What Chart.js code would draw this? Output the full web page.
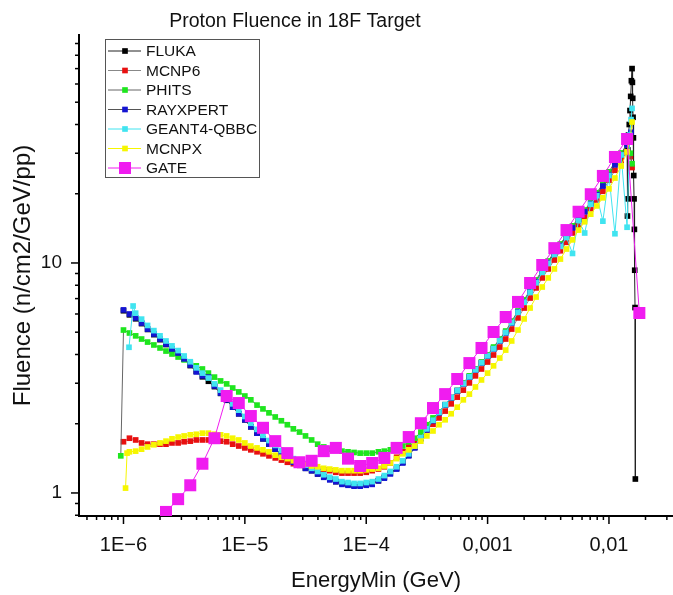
<!DOCTYPE html>
<html>
<head>
<meta charset="utf-8">
<script src="https://cdn.jsdelivr.net/npm/chart.js@4.4.0/dist/chart.umd.min.js"></script>
<style>
    html, body { margin: 0; padding: 0; background: #fff; }
    #wrap { width: 673px; height: 595px; }
</style>
</head>
<body>
<div id="wrap"><canvas id="fluenceChart" width="673" height="595"></canvas></div>
<script>
// energy grid shared by the dense series (GeV)
const energyGrid = [
    1.00e-6, 1.12e-6, 1.26e-6, 1.41e-6, 1.58e-6, 1.78e-6, 2.00e-6, 2.24e-6, 2.51e-6, 2.82e-6,
    3.16e-6, 3.55e-6, 3.98e-6, 4.47e-6, 5.01e-6, 5.62e-6, 6.31e-6, 7.08e-6, 7.94e-6, 8.91e-6,
    1.00e-5, 1.12e-5, 1.26e-5, 1.41e-5, 1.58e-5, 1.78e-5, 2.00e-5, 2.24e-5, 2.51e-5, 2.82e-5,
    3.16e-5, 3.55e-5, 3.98e-5, 4.47e-5, 5.01e-5, 5.62e-5, 6.31e-5, 7.08e-5, 7.94e-5, 8.91e-5,
    1.00e-4, 1.12e-4, 1.26e-4, 1.41e-4, 1.58e-4, 1.78e-4, 2.00e-4, 2.24e-4, 2.51e-4, 2.82e-4,
    3.16e-4, 3.55e-4, 3.98e-4, 4.47e-4, 5.01e-4, 5.62e-4, 6.31e-4, 7.08e-4, 7.94e-4, 8.91e-4,
    1.00e-3, 1.12e-3, 1.26e-3, 1.41e-3, 1.58e-3, 1.78e-3, 2.00e-3, 2.24e-3, 2.51e-3, 2.82e-3,
    3.16e-3, 3.55e-3, 3.98e-3, 4.47e-3, 5.01e-3, 5.62e-3, 6.31e-3, 7.08e-3, 7.94e-3, 8.91e-3,
    1.00e-2, 1.12e-2, 1.26e-2, 1.41e-2
];

// FLUKA
const flukaFluence = [
    6.20, 5.95, 5.72, 5.45, 5.14, 4.88, 4.64, 4.42, 4.21, 4.04,
    3.82, 3.58, 3.38, 3.20, 3.06, 2.90, 2.71, 2.53, 2.36, 2.21,
    2.08, 1.94, 1.82, 1.72, 1.63, 1.55, 1.48, 1.42, 1.37, 1.32,
    1.28, 1.25, 1.21, 1.18, 1.15, 1.12, 1.10, 1.09, 1.08, 1.08,
    1.09, 1.10, 1.13, 1.17, 1.22, 1.28, 1.36, 1.46, 1.58, 1.73,
    1.89, 2.07, 2.24, 2.42, 2.60, 2.79, 3.00, 3.21, 3.45, 3.69,
    3.96, 4.26, 4.62, 5.00, 5.52, 6.15, 6.80, 7.52, 8.31, 9.18,
    10.1, 11.0, 12.0, 13.1, 14.3, 15.5, 16.8, 18.2, 19.9, 21.8,
    24.3, 27.0, 29.8, 33.0
];
const flukaTailE = [0.0142, 0.0143, 0.0144, 0.0145, 0.0147, 0.0149, 0.0151, 0.0153, 0.0155,
    0.0156, 0.0157, 0.0158, 0.0159, 0.0160, 0.0161, 0.0162, 0.0163, 0.0164, 0.0165];
const flukaTailF = [16, 31, 19, 36, 40, 46, 53, 62, 70,
    61, 52, 43, 35, 24, 19, 14, 9.3, 6.4, 1.15];

// MCNP6
const mcnp6Fluence = [
    1.67, 1.73, 1.70, 1.65, 1.63, 1.63, 1.63, 1.63, 1.65, 1.65,
    1.67, 1.68, 1.70, 1.70, 1.70, 1.70, 1.68, 1.67, 1.63, 1.60,
    1.57, 1.54, 1.51, 1.48, 1.45, 1.42, 1.39, 1.36, 1.34, 1.32,
    1.30, 1.28, 1.27, 1.26, 1.25, 1.23, 1.22, 1.22, 1.22, 1.22,
    1.23, 1.25, 1.27, 1.30, 1.35, 1.43, 1.51, 1.585, 1.67, 1.77,
    1.88, 1.99, 2.12, 2.27, 2.44, 2.61, 2.80, 3.01, 3.23, 3.46,
    3.71, 3.98, 4.31, 4.67, 5.16, 5.77, 6.37, 7.04, 7.79, 8.61,
    9.42, 10.3, 11.3, 12.3, 13.5, 14.6, 15.8, 17.2, 18.8, 20.5,
    22.9, 25.3, 27.9, 30.4
];
const mcnp6TailE = [0.0150, 0.0155];
const mcnp6TailF = [29, 26];

// PHITS
const phitsHeadE = [9.5e-7];
const phitsHeadF = [1.45];
const phitsFluence = [
    5.11, 4.96, 4.82, 4.67, 4.53, 4.40, 4.27, 4.14, 4.02, 3.90,
    3.79, 3.67, 3.57, 3.46, 3.32, 3.19, 3.07, 2.98, 2.86, 2.75,
    2.64, 2.54, 2.41, 2.32, 2.23, 2.14, 2.06, 1.98, 1.90, 1.84,
    1.77, 1.70, 1.63, 1.585, 1.55, 1.54, 1.52, 1.51, 1.50, 1.49,
    1.49, 1.49, 1.51, 1.52, 1.54, 1.57, 1.60, 1.67, 1.73, 1.84,
    1.98, 2.12, 2.25, 2.41, 2.59, 2.78, 3.01, 3.23, 3.46, 3.71,
    3.98, 4.31, 4.67, 5.06, 5.59, 6.18, 6.91, 7.63, 8.44, 9.32,
    10.2, 11.2, 12.1, 13.2, 14.5, 15.7, 17.0, 18.4, 20.2, 22.1,
    24.9, 27.5, 30.1, 32.6
];
const phitsTailE = [0.0150, 0.0155];
const phitsTailF = [30, 27];

// RAYXPERT
const rayxpertFluence = [
    6.25, 6.00, 5.77, 5.48, 5.16, 4.91, 4.67, 4.44, 4.23, 4.06,
    3.83, 3.60, 3.36, 3.23, 3.19, 2.92, 2.72, 2.54, 2.36, 2.21,
    2.08, 1.94, 1.82, 1.72, 1.63, 1.55, 1.48, 1.42, 1.36, 1.32,
    1.28, 1.25, 1.21, 1.17, 1.14, 1.12, 1.09, 1.08, 1.07, 1.07,
    1.08, 1.09, 1.13, 1.16, 1.21, 1.27, 1.35, 1.45, 1.57, 1.72,
    1.88, 2.06, 2.23, 2.41, 2.59, 2.78, 2.98, 3.19, 3.43, 3.67,
    3.94, 4.23, 4.58, 4.96, 5.48, 6.12, 6.77, 7.48, 8.27, 9.14,
    10.0, 10.9, 11.9, 13.0, 14.2, 15.4, 16.7, 18.1, 19.8, 21.6,
    24.1, 26.7, 29.5, 32.6
];
const rayxpertTailE = [0.0148, 0.0152];
const rayxpertTailF = [34, 37];

// GEANT4-QBBC
const geantHeadE = [1.11e-6, 1.20e-6];
const geantHeadF = [4.3, 6.5];
const geantFluence = [
    null, null, 6.05, 5.70, 5.35, 5.08, 4.82, 4.58, 4.36, 4.16,
    3.94, 3.72, 3.50, 3.32, 3.16, 2.98, 2.80, 2.62, 2.44, 2.29,
    2.15, 2.01, 1.89, 1.78, 1.69, 1.61, 1.53, 1.47, 1.41, 1.36,
    1.32, 1.28, 1.24, 1.20, 1.17, 1.15, 1.12, 1.11, 1.10, 1.10,
    1.11, 1.12, 1.15, 1.19, 1.24, 1.30, 1.38, 1.48, 1.60, 1.74,
    1.90, 2.07, 2.24, 2.42, 2.60, 2.79, 2.99, 3.20, 3.44, 3.68,
    3.95, 4.24, 4.60, 4.98, 5.50, 6.10, 6.75, 7.45, 8.20, 9.10,
    9.95, 10.9, 11.8, 12.9, 11.0, 15.3, 13.5, 18.0, 19.6, 15.2,
    24.0, 13.4, 29.5, 14.3
];
const geantTailE = [0.0148, 0.0152, 0.0155];
const geantTailF = [36, 42, 47];

// MCNPX
const mcnpxHeadE = [1.04e-6, 1.07e-6];
const mcnpxHeadF = [1.05, 1.49];
const mcnpxFluence = [
    null, 1.51, 1.52, 1.55, 1.585, 1.62, 1.65, 1.68, 1.72, 1.75,
    1.77, 1.79, 1.80, 1.82, 1.82, 1.80, 1.79, 1.77, 1.73, 1.70,
    1.65, 1.60, 1.57, 1.54, 1.51, 1.46, 1.43, 1.41, 1.38, 1.36,
    1.34, 1.31, 1.30, 1.28, 1.27, 1.26, 1.25, 1.25, 1.25, 1.25,
    1.26, 1.27, 1.28, 1.31, 1.35, 1.41, 1.48, 1.54, 1.60, 1.68,
    1.77, 1.86, 1.98, 2.08, 2.21, 2.36, 2.54, 2.69, 2.89, 3.10,
    3.32, 3.57, 3.86, 4.18, 4.58, 5.11, 5.71, 6.37, 7.11, 7.86,
    8.61, 9.42, 10.4, 11.5, 12.6, 13.9, 15.1, 16.3, 17.7, 19.2,
    21.0, 23.4, 26.4, 30.4
];
const mcnpxTailE = [0.0150, 0.0155];
const mcnpxTailF = [35, 41];

// GATE (own energy bins)
const gateEnergy = [
    2.24e-6, 2.82e-6, 3.55e-6, 4.47e-6, 5.62e-6, 7.08e-6, 8.91e-6, 1.12e-5, 1.41e-5, 1.78e-5,
    2.24e-5, 2.82e-5, 3.55e-5, 4.47e-5, 5.62e-5, 7.08e-5, 8.91e-5, 1.12e-4, 1.41e-4, 1.78e-4,
    2.24e-4, 2.82e-4, 3.55e-4, 4.47e-4, 5.62e-4, 7.08e-4, 8.91e-4, 1.12e-3, 1.41e-3, 1.78e-3,
    2.24e-3, 2.82e-3, 3.55e-3, 4.47e-3, 5.62e-3, 7.08e-3, 8.91e-3, 1.12e-2, 1.41e-2, 1.78e-2
];
const gateFluence = [
    0.827, 0.94, 1.08, 1.34, 1.73, 2.64, 2.46, 2.16, 1.92, 1.68,
    1.49, 1.36, 1.38, 1.52, 1.57, 1.41, 1.31, 1.35, 1.42, 1.57,
    1.75, 2.01, 2.34, 2.69, 3.13, 3.67, 4.27, 5.01, 5.82, 6.77,
    8.18, 9.80, 11.6, 13.9, 16.7, 19.9, 23.9, 28.9, 34.6, 6.06
];

const xMajorTicks = [1e-6, 1e-5, 1e-4, 1e-3, 1e-2];
const xTickLabels = ['1E\u22126', '1E\u22125', '1E\u22124', '0,001', '0,01'];
const yMajorTicks = [1, 10];
const yTickLabels = ['1', '10'];

const FONT = '"Liberation Sans", Arial, sans-serif';

function toPoints(headE, headF, gridF, tailE, tailF) {
    var pts = [];
    headE.forEach(function (e, i) { pts.push({x: e, y: headF[i]}); });
    energyGrid.forEach(function (e, i) {
        if (gridF[i] !== null) pts.push({x: e, y: gridF[i]});
    });
    tailE.forEach(function (e, i) { pts.push({x: e, y: tailF[i]}); });
    return pts;
}

function series(label, data, marker, line, radius, order) {
    return {
        label: label,
        data: data,
        showLine: true,
        borderColor: line,
        borderWidth: 1,
        backgroundColor: marker,
        pointBackgroundColor: marker,
        pointBorderWidth: 0,
        pointStyle: 'rect',
        pointRadius: radius,
        pointHoverRadius: radius,
        order: order
    };
}

function isDecade(v) {
    var l = Math.log10(v);
    return Math.abs(l - Math.round(l)) < 1e-6;
}

function logTicks(lo, hi, min, max) {
    var out = [];
    for (var p = lo; p <= hi; p++) {
        for (var m = 1; m <= 9; m++) {
            var v = m * Math.pow(10, p);
            if (v >= min && v <= max) out.push(v);
        }
    }
    return out;
}

function labelFor(majors, labels) {
    return function (v) {
        var i = majors.findIndex(function (t) { return Math.abs(t - v) / t < 1e-6; });
        return i >= 0 ? labels[i] : '';
    };
}

const X_MIN = 4.3e-7, X_MAX = 0.0337, Y_MIN = 0.794, Y_MAX = 98;

// tick marks (long at decades) and the x tick labels
const tickMarks = {
    id: 'tickMarks',
    afterDraw: function (chart) {
        var ctx = chart.ctx, area = chart.chartArea;
        var xs = chart.scales.x, ys = chart.scales.y;
        var xLabel = labelFor(xMajorTicks, xTickLabels);
        ctx.save();
        ctx.strokeStyle = '#000';
        ctx.lineWidth = 1.5;
        xs.ticks.forEach(function (t) {
            var px = xs.getPixelForValue(t.value);
            var len = isDecade(t.value) ? 8 : 4;
            ctx.beginPath();
            ctx.moveTo(px, area.bottom);
            ctx.lineTo(px, area.bottom + len);
            ctx.stroke();
        });
        ys.ticks.forEach(function (t) {
            var py = ys.getPixelForValue(t.value);
            var len = isDecade(t.value) ? 8 : 4;
            ctx.beginPath();
            ctx.moveTo(area.left, py);
            ctx.lineTo(area.left - len, py);
            ctx.stroke();
        });
        ctx.fillStyle = '#111';
        ctx.font = '20px ' + FONT;
        ctx.textAlign = 'center';
        ctx.textBaseline = 'middle';
        xMajorTicks.forEach(function (v) {
            ctx.fillText(xLabel(v), xs.getPixelForValue(v), area.bottom + 29);
        });
        ctx.restore();
    }
};

// title above the plot
const plotTitle = {
    id: 'plotTitle',
    afterDraw: function (chart) {
        var ctx = chart.ctx;
        ctx.save();
        ctx.fillStyle = '#111';
        ctx.font = '19.5px ' + FONT;
        ctx.textAlign = 'center';
        ctx.textBaseline = 'alphabetic';
        ctx.fillText('Proton Fluence in 18F Target', 295, 27);
        ctx.restore();
    }
};

// boxed legend in the upper left
const boxLegend = {
    id: 'boxLegend',
    afterDraw: function (chart) {
        var ctx = chart.ctx;
        var left = 105, top = 39, w = 154, h = 138;
        ctx.save();
        ctx.fillStyle = '#fff';
        ctx.fillRect(left, top, w, h);
        ctx.strokeStyle = '#555';
        ctx.lineWidth = 1;
        ctx.strokeRect(left + 0.5, top + 0.5, w, h);
        ctx.font = '15.5px ' + FONT;
        ctx.textBaseline = 'middle';
        chart.data.datasets.forEach(function (ds, i) {
            var y = 51 + i * 19.5;
            ctx.strokeStyle = ds.borderColor;
            ctx.beginPath();
            ctx.moveTo(108, y);
            ctx.lineTo(141, y);
            ctx.stroke();
            var s = Math.min(ds.pointRadius * Math.SQRT2, 12);
            ctx.fillStyle = ds.pointBackgroundColor;
            ctx.fillRect(125 - s / 2, y - s / 2, s, s);
            ctx.fillStyle = '#111';
            ctx.fillText(ds.label, 146, y + 1);
        });
        ctx.restore();
    }
};

const ctx = document.getElementById('fluenceChart').getContext('2d');
new Chart(ctx, {
    type: 'scatter',
    data: {
        datasets: [
            series('FLUKA', toPoints([], [], flukaFluence, flukaTailE, flukaTailF), '#000000', '#222222', 4, 6),
            series('MCNP6', toPoints([], [], mcnp6Fluence, mcnp6TailE, mcnp6TailF), '#e81010', '#888888', 4, 5),
            series('PHITS', toPoints(phitsHeadE, phitsHeadF, phitsFluence, phitsTailE, phitsTailF), '#1ee61e', '#666666', 4, 4),
            series('RAYXPERT', toPoints([], [], rayxpertFluence, rayxpertTailE, rayxpertTailF), '#1414d2', '#555555', 4, 3),
            series('GEANT4-QBBC', toPoints(geantHeadE, geantHeadF, geantFluence, geantTailE, geantTailF), '#40e4f0', '#40e4f0', 4, 2),
            series('MCNPX', toPoints(mcnpxHeadE, mcnpxHeadF, mcnpxFluence, mcnpxTailE, mcnpxTailF), '#f6f600', '#f6f600', 4, 1),
            series('GATE', gateEnergy.map(function (e, i) { return {x: e, y: gateFluence[i]}; }), '#f01cf0', '#f01cf0', 8.5, 0)
        ]
    },
    options: {
        responsive: false,
        animation: false,
        layout: {autoPadding: false, padding: {top: 35, right: 0, bottom: 0, left: 0}},
        plugins: {
            legend: {display: false},
            tooltip: {enabled: false},
            title: {display: false}
        },
        scales: {
            x: {
                type: 'logarithmic',
                min: X_MIN,
                max: X_MAX,
                afterBuildTicks: function (s) {
                    s.ticks = logTicks(-7, -2, X_MIN, X_MAX).map(function (v) { return {value: v}; });
                },
                afterFit: function (s) { s.height = 79; },
                grid: {display: false, drawTicks: false, tickLength: 0},
                border: {display: true, color: '#000', width: 2},
                ticks: {display: false, autoSkip: false},
                title: {
                    display: true,
                    text: 'EnergyMin (GeV)',
                    color: '#111',
                    font: {family: FONT, size: 22},
                    padding: {top: 0, bottom: 1}
                }
            },
            y: {
                type: 'logarithmic',
                min: Y_MIN,
                max: Y_MAX,
                afterBuildTicks: function (s) {
                    s.ticks = logTicks(-1, 1, Y_MIN, Y_MAX).map(function (v) { return {value: v}; });
                },
                afterFit: function (s) { s.width = 79; },
                grid: {display: false, drawTicks: false, tickLength: 0},
                border: {display: true, color: '#000', width: 2},
                ticks: {
                    autoSkip: false,
                    padding: 17,
                    color: '#111',
                    font: {family: FONT, size: 19},
                    callback: labelFor(yMajorTicks, yTickLabels)
                },
                title: {
                    display: true,
                    text: 'Fluence (n/cm2/GeV/pp)',
                    color: '#111',
                    font: {family: FONT, size: 24},
                    padding: {top: 9, bottom: 0}
                }
            }
        }
    },
    plugins: [tickMarks, plotTitle, boxLegend]
});
</script>
</body>
</html>
